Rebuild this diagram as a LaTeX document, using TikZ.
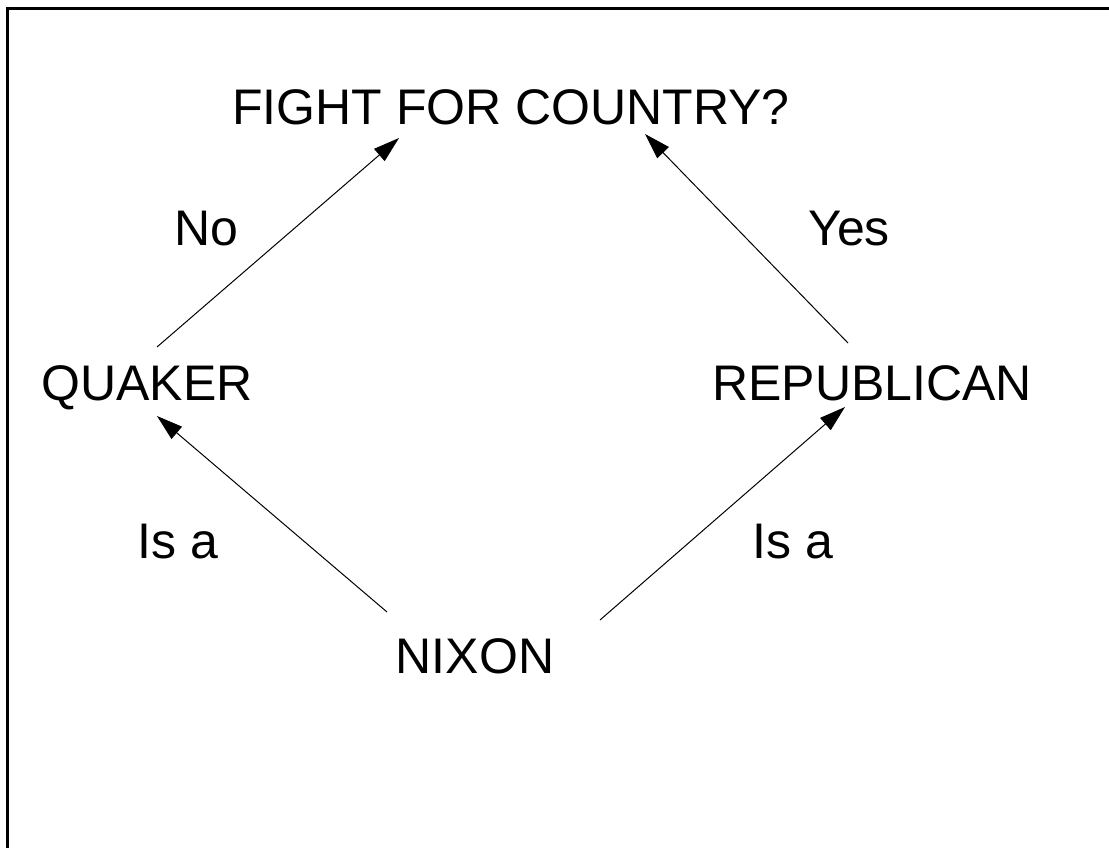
\documentclass[tikz,border=0pt]{standalone}
\usepackage{fontspec}
\setmainfont{Liberation Sans}
\usetikzlibrary{arrows.meta}

\begin{document}
\begin{tikzpicture}[x=1pt, y=-1pt,
  label/.style={inner sep=0pt, anchor=base, font=\fontsize{50}{60}\selectfont},
  link/.style={line width=1pt, -{Triangle[length=26pt, width=16pt]}}]

  % page area and frame (top and left edges only)
  \clip (0,0) rectangle (1109,848);
  \fill[white] (0,0) rectangle (1109,848);
  \draw[line width=3pt] (7.5,870) -- (7.5,8.5) -- (1130,8.5);

  % concepts
  \node[label] (fight)  at (511,125) {FIGHT FOR COUNTRY?};
  \node[label] (quaker) at (147,400) {QUAKER};
  \node[label] (repub)  at (872,400) {REPUBLICAN};
  \node[label] (nixon)  at (475,673) {NIXON};

  % edge labels
  \node[label] (no)    at (206,245) {No};
  \node[label] (yes)   at (849,245) {Yes};
  \node[label] (isaL)  at (178,558) {Is a};
  \node[label] (isaR)  at (793,558) {Is a};

  % links
  \draw[link] ([shift={(10,-53)}]quaker.base) -- ([shift={(-112,13)}]fight.base);
  \draw[link] ([shift={(-24,-57)}]repub.base) -- ([shift={(134,9)}]fight.base);
  \draw[link] ([shift={(-88,-61)}]nixon.base) -- ([shift={(10,16)}]quaker.base);
  \draw[link] ([shift={(125,-53)}]nixon.base) -- ([shift={(-27,7)}]repub.base);
\end{tikzpicture}
\end{document}
